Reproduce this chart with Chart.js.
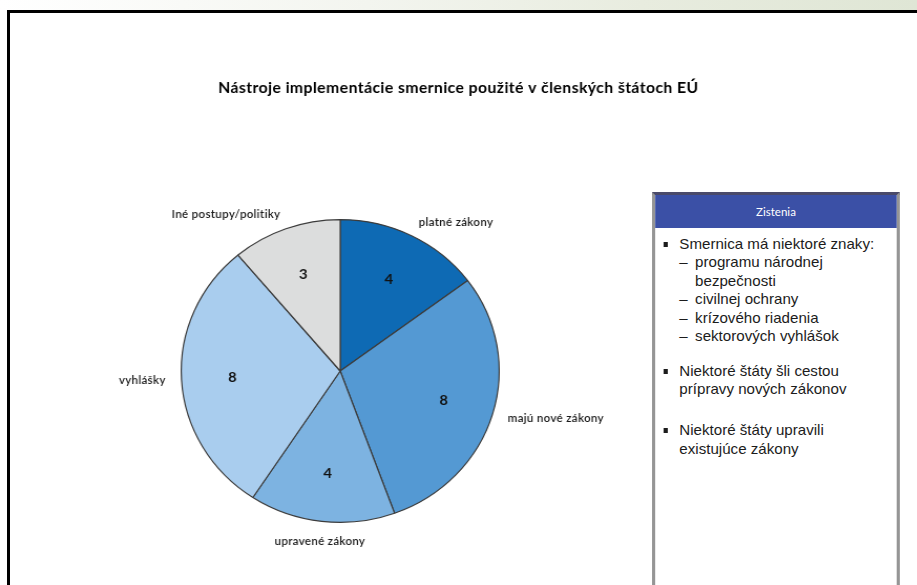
<!DOCTYPE html>
<html lang="sk">
<head>
<meta charset="utf-8">
<script src="https://cdn.jsdelivr.net/npm/chart.js@4/dist/chart.umd.min.js"></script>
<style>
  html, body { margin: 0; padding: 0; background: #ffffff; }
  body { width: 917px; height: 585px; position: relative; overflow: hidden; }
  #band { position: absolute; left: 0; top: 0; width: 917px; height: 10px;
          background: linear-gradient(to right, #ffffff 0%, #f3f5ef 40%, #e8ecdf 70%, #dfe6d5 100%); }
  #frameTop { position: absolute; left: 7px; top: 10px; width: 910px; height: 3px; background: #000; }
  #frameLeft { position: absolute; left: 7px; top: 10px; width: 3px; height: 575px; background: #000; }
  #slide { position: absolute; left: 0; top: 0; width: 873px; height: 585px;
           transform: scaleX(1.05); transform-origin: 0 0; }
  #chart { position: absolute; left: 0; top: 0; }
  #findings { position: absolute; left: 621px; top: 192px; width: 236px; height: 420px;
              box-sizing: border-box; border: 3px solid #959595; border-top-color: #4a4a6a; background: #fff;
              font-family: "Liberation Sans", Arial, sans-serif; font-size: 14.4px; color: #1c1c1c; }
  #findings .head { height: 33px; line-height: 33px; background: #3b50a6; color: #fff; text-align: center;
                    font-family: Lato, sans-serif; font-size: 11px; }
  #findings .body { padding-top: 7px; line-height: 18.4px; }
  .item { position: relative; padding-left: 23px; }
  .item::before { content: ""; position: absolute; left: 8px; top: 7px; width: 4px; height: 5px; background: #1c1c1c; }
  .sub { position: relative; padding-left: 15px; }
  .sub::before { content: "–"; position: absolute; left: 0; top: 0; }
  .gap1 { margin-top: 16.6px; }
  .gap2 { margin-top: 22.6px; }
</style>
</head>
<body>
<div id="band"></div>
<div id="slide">
  <canvas id="chart" width="873" height="585"></canvas>
  <div id="findings">
    <div class="head">Zistenia</div>
    <div class="body">
      <div class="item">Smernica má niektoré znaky:
        <div class="sub">programu národnej<br>bezpečnosti</div>
        <div class="sub">civilnej ochrany</div>
        <div class="sub">krízového riadenia</div>
        <div class="sub">sektorových vyhlášok</div>
      </div>
      <div class="item gap1">Niektoré štáty šli cestou<br>prípravy nových zákonov</div>
      <div class="item gap2">Niektoré štáty upravili<br>existujúce zákony</div>
    </div>
  </div>
</div>
<div id="frameTop"></div>
<div id="frameLeft"></div>

<script>
// Implementation instruments and the number of member states using each
const categories = ['platné zákony', 'majú nové zákony', 'upravené zákony', 'vyhlášky', 'Iné postupy/politiky'];
const counts = [4, 8, 4, 8, 3];
const chartTitle = 'Nástroje implementácie smernice použité v členských štátoch EÚ';

const sliceColors = ['#0e6ab4', '#5499d3', '#7db3e1', '#a9cdee', '#dcdddd'];

// Slide-wide title, centred on the whole canvas rather than on the pie
const slideTitle = {
  id: 'slideTitle',
  afterDraw(chart, args, opts) {
    const ctx = chart.ctx;
    ctx.save();
    ctx.font = 'bold 15px Lato, sans-serif';
    ctx.letterSpacing = '0.4px';
    ctx.fillStyle = '#000';
    ctx.textAlign = 'center';
    ctx.textBaseline = 'middle';
    ctx.fillText(opts.text, chart.width / 2, opts.y);
    ctx.restore();
  }
};

// Category names outside each slice, counts inside
const sliceLabels = {
  id: 'sliceLabels',
  afterDatasetsDraw(chart) {
    const ctx = chart.ctx;
    const meta = chart.getDatasetMeta(0);
    ctx.save();
    meta.data.forEach((arc, i) => {
      const p = arc.getProps(['x', 'y', 'startAngle', 'endAngle', 'outerRadius'], true);
      const mid = (p.startAngle + p.endAngle) / 2;
      const cx = Math.cos(mid), sy = Math.sin(mid);

      // value inside
      const vr = p.outerRadius * 0.68;
      ctx.font = 'bold 14px Lato, sans-serif';
      ctx.letterSpacing = '0px';
      ctx.fillStyle = '#111';
      ctx.textAlign = 'center';
      ctx.textBaseline = 'middle';
      ctx.fillText(String(counts[i]), p.x + cx * vr, p.y + sy * vr);

      // category name outside
      const lr = p.outerRadius * 1.1;
      const lx = p.x + cx * lr, ly = p.y + sy * lr;
      ctx.font = '600 11px Lato, sans-serif';
      ctx.letterSpacing = '0.3px';
      ctx.fillStyle = '#1a1a1a';
      if (Math.abs(cx) < 0.3) {
        ctx.textAlign = 'center';
        ctx.textBaseline = sy < 0 ? 'bottom' : 'top';
      } else {
        ctx.textAlign = cx > 0 ? 'left' : 'right';
        ctx.textBaseline = 'middle';
      }
      ctx.fillText(categories[i], lx, ly);
    });
    ctx.restore();
  }
};

new Chart(document.getElementById('chart'), {
  type: 'pie',
  data: {
    labels: categories,
    datasets: [{
      data: counts,
      backgroundColor: sliceColors,
      borderColor: '#3c3c3c',
      borderWidth: 1.2
    }]
  },
  options: {
    responsive: false,
    animation: false,
    devicePixelRatio: 1,
    layout: { padding: { left: 172, right: 397, top: 219, bottom: 62 } },
    plugins: {
      legend: { display: false },
      tooltip: { enabled: false },
      title: { display: false },
      slideTitle: { text: chartTitle, y: 88 }
    }
  },
  plugins: [sliceLabels, slideTitle]
});
</script>
</body>
</html>
